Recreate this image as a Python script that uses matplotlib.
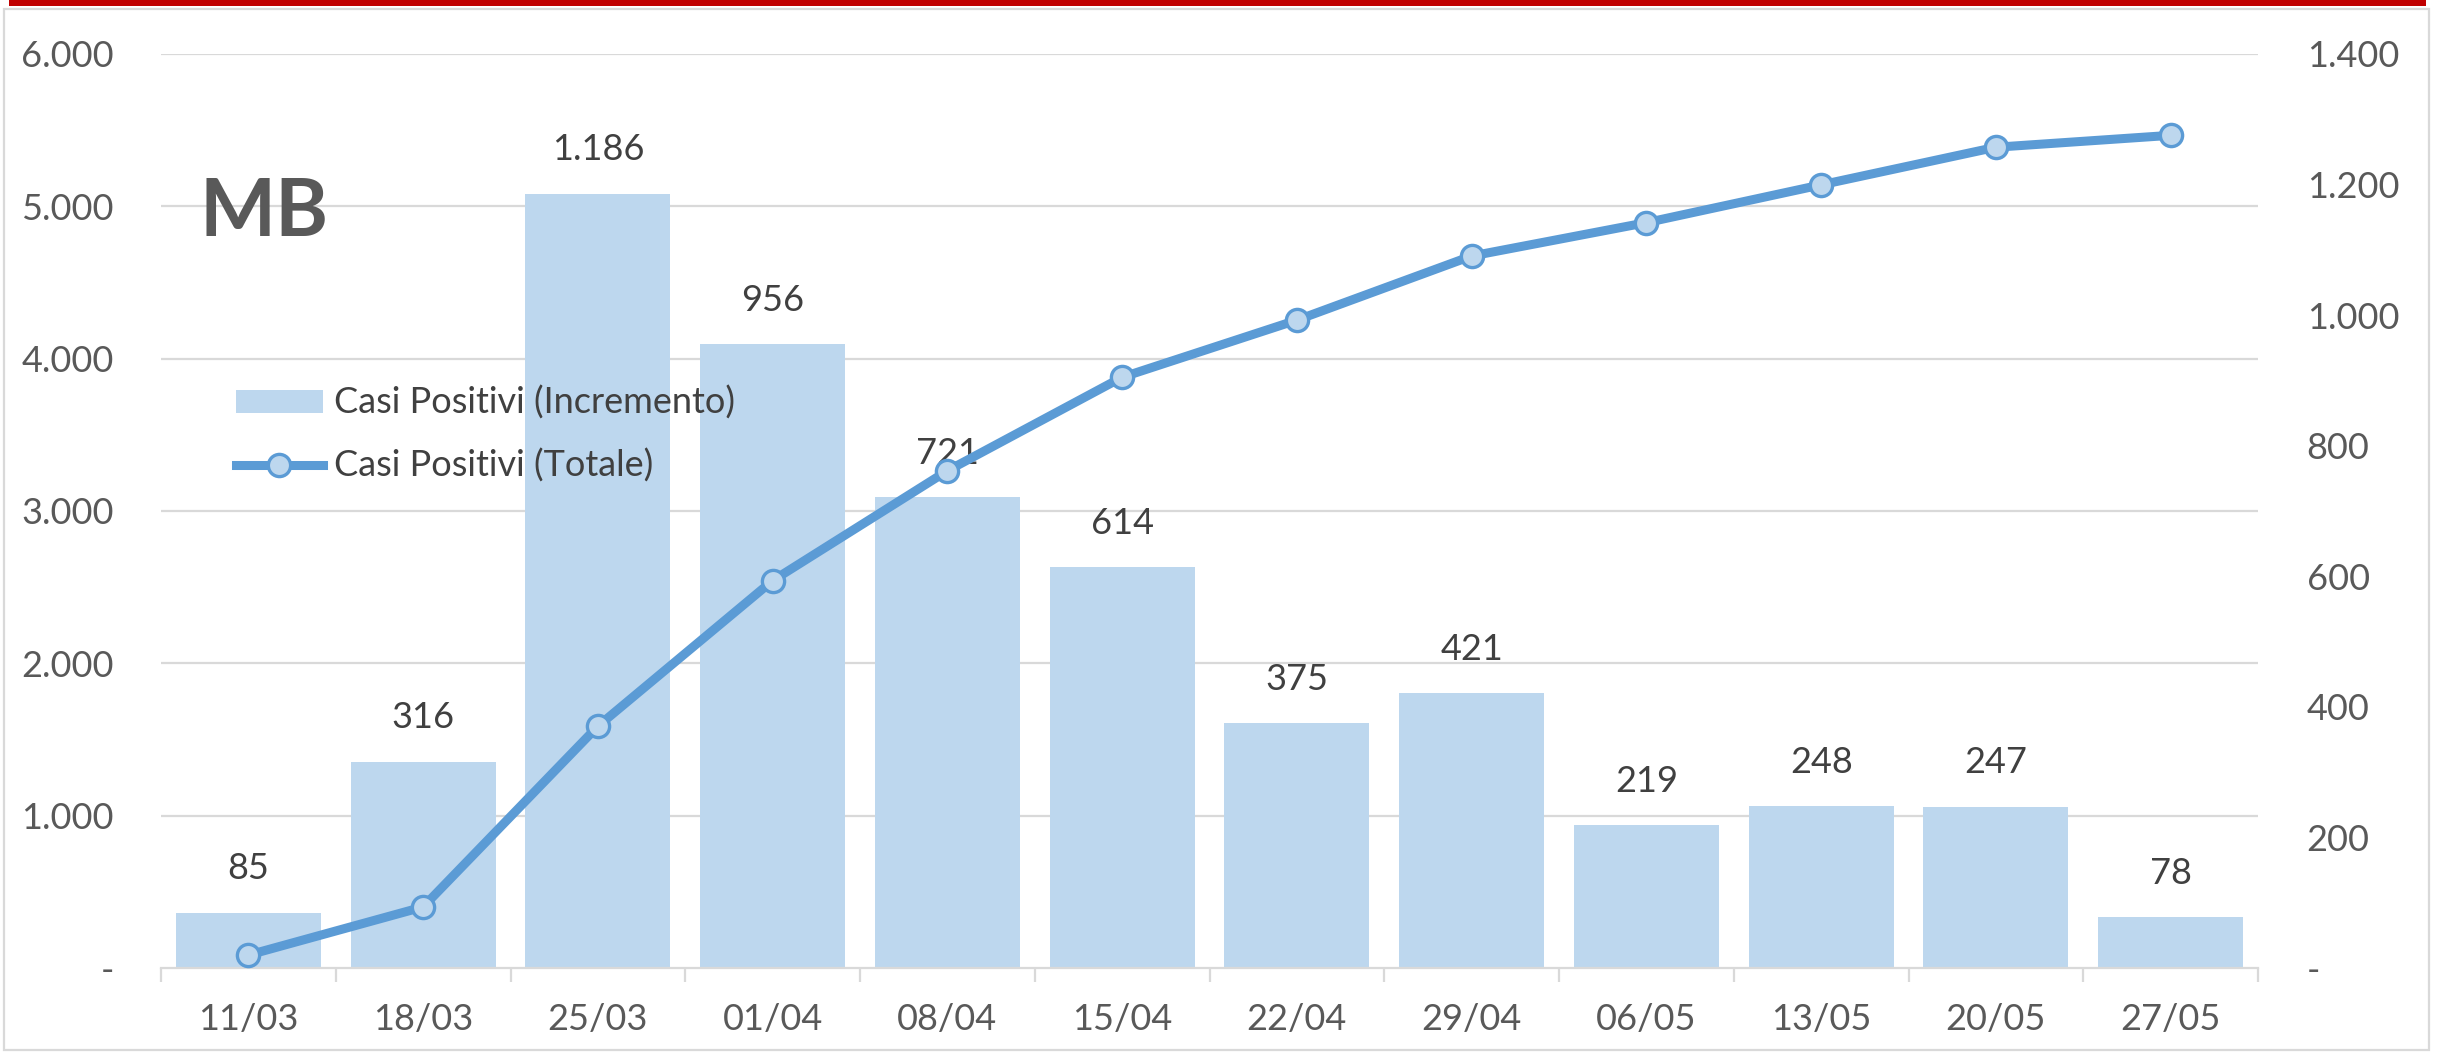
import numpy as np
import matplotlib
matplotlib.use("Agg")
import matplotlib.pyplot as plt
from matplotlib.lines import Line2D
from matplotlib.patches import Patch, Rectangle
from matplotlib.ticker import FuncFormatter

plt.rcParams["font.family"] = ["Lato", "DejaVu Sans"]

# weekly data
weeks = ["11/03", "18/03", "25/03", "01/04", "08/04", "15/04",
         "22/04", "29/04", "06/05", "13/05", "20/05", "27/05"]
new_cases = [85, 316, 1186, 956, 721, 614, 375, 421, 219, 248, 247, 78]
total_cases = [85, 401, 1587, 2543, 3264, 3878, 4253, 4674, 4893, 5141, 5388, 5466]
left_ticks = [0, 1000, 2000, 3000, 4000, 5000, 6000]
right_ticks = [0, 200, 400, 600, 800, 1000, 1200, 1400]

BAR = "#BDD7EE"
LINE = "#5B9BD5"
GRID = "#D9D9D9"
TICK_TXT = "#595959"
LABEL_TXT = "#404040"
FS = 26


def it_fmt(v, _pos=None):
    # italian thousands separator, dash for zero
    if abs(v) < 1e-9:
        return "-"
    return f"{int(round(v)):,}".replace(",", ".")


fig = plt.figure(figsize=(24.4, 10.52), dpi=100)

W, H = 2440, 1052
x0, x1 = 161, 2258
y_top, y_bot = 54, 968
ax = fig.add_axes([x0 / W, 1 - y_bot / H, (x1 - x0) / W, (y_bot - y_top) / H])
ax_l = ax.twinx()

x = np.arange(len(weeks))

# bars live on the bottom axes (right scale)
ax.bar(x, new_cases, width=0.83, color=BAR, zorder=2)
ax.set_ylim(right_ticks[0], right_ticks[-1])
ax.set_xlim(-0.5, len(weeks) - 0.5)
ax.yaxis.tick_right()
ax.set_yticks(right_ticks)
ax.yaxis.set_major_formatter(FuncFormatter(it_fmt))
ax.tick_params(axis="y", length=0, pad=35, labelsize=FS, labelcolor=TICK_TXT)

# gridlines follow the left scale, drawn behind the bars
scale = right_ticks[-1] / left_ticks[-1]
for t in left_ticks[1:]:
    ax.axhline(t * scale, color=GRID, lw=1.6, zorder=1)

for xi, v in zip(x, new_cases):
    ax.annotate(it_fmt(v), (xi, v), xytext=(0, 24), textcoords="offset points",
                ha="center", va="baseline", fontsize=FS, color=LABEL_TXT)

ax.set_xticks(x)
ax.set_xticklabels(weeks)
ax.set_xticks(np.arange(len(weeks) + 1) - 0.5, minor=True)
ax.tick_params(axis="x", which="major", length=0, pad=25, labelsize=FS, labelcolor=TICK_TXT)
ax.tick_params(axis="x", which="minor", length=10, width=1.6, color=GRID)

for s in ["top", "left", "right"]:
    ax.spines[s].set_visible(False)
ax.spines["bottom"].set_color(GRID)
ax.spines["bottom"].set_linewidth(1.6)

# cumulative line on the twin axes (left scale)
line_style = dict(color=LINE, lw=6.5, marker="o", ms=16, mfc=BAR, mec=LINE, mew=2.4)
ax_l.plot(x, total_cases, zorder=3, **line_style)
ax_l.set_ylim(left_ticks[0], left_ticks[-1])
ax_l.yaxis.tick_left()
ax_l.set_yticks(left_ticks)
ax_l.yaxis.set_major_formatter(FuncFormatter(it_fmt))
ax_l.tick_params(axis="y", length=0, pad=34, labelsize=FS, labelcolor=TICK_TXT)
for s in ax_l.spines.values():
    s.set_visible(False)

ax.text(199 / W, 1 - 236 / H, "MB", transform=fig.transFigure, fontsize=58,
        fontweight="bold", color=TICK_TXT, va="baseline", ha="left")

handles = [Patch(facecolor=BAR, edgecolor="none"), Line2D([], [], **line_style)]
fig.legend(handles, ["Casi Positivi (Incremento)", "Casi Positivi (Totale)"],
           loc="upper left", bbox_to_anchor=(236 / W, 1 - 386 / H), frameon=False,
           fontsize=FS, labelcolor=LABEL_TXT, handlelength=2.4, handleheight=0.6,
           handletextpad=0.3, labelspacing=0.8, borderpad=0, borderaxespad=0)

# outer frame and red top rule
fig.patches.append(Rectangle((4 / W, 1 - 1050 / H), 2425 / W, 1041 / H, transform=fig.transFigure,
                             fill=False, edgecolor=GRID, lw=1.6))
fig.patches.append(Rectangle((9 / W, 1 - 6 / H), 2417 / W, 6 / H, transform=fig.transFigure,
                             facecolor="#C00000", edgecolor="none"))

fig.savefig("out.png", dpi=100, facecolor="white")
